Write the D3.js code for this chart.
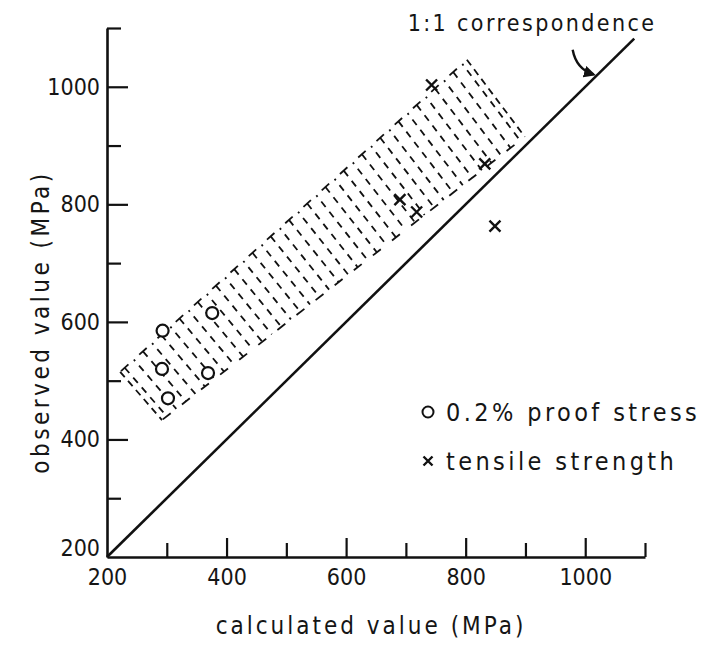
<!DOCTYPE html>
<html lang="en">
<head>
<meta charset="UTF-8">
<title>observed vs calculated</title>
<script src="https://cdn.jsdelivr.net/npm/d3@7"></script>
<style>
  body { margin: 0; background: #fff; }
  text { font-family: "DejaVu Sans Condensed", "DejaVu Sans", sans-serif; fill: #151515; }
</style>
</head>
<body>
<svg id="chart" width="708" height="647"></svg>
<script>
// 0.2% proof stress (circles)
const proofCalc = [293, 292, 302, 376, 369]
const proofObs  = [585, 520, 470, 615, 513]
// tensile strength (crosses)
const tensCalc = [743, 690, 718, 832, 849]
const tensObs  = [1003, 808, 787, 869, 763]
// scatter band corners: top-left, top-right, bottom-right, bottom-left
const bandCalc = [222, 802, 899, 292]
const bandObs  = [515, 1046, 915, 433]
const majorTicks = [200, 400, 600, 800, 1000]
const minorTicks = [300, 500, 700, 900, 1100]
const lineEnd = 1082

let svg = d3.select("#chart")
let x = d3.scaleLinear().domain([200, 1100]).range([107, 645])
let y = d3.scaleLinear().domain([200, 1100]).range([557, 28])

// hatched band
let c = bandCalc.map((v, i) => [x(v), y(bandObs[i])])
let lerp = (a, b, t) => [a[0] + (b[0] - a[0]) * t, a[1] + (b[1] - a[1]) * t]
let band = svg.append("g")
let n = 38
for (let i = 0; i < n; i++) {
  let t = (i + 0.5) / n
  let p = lerp(c[0], c[1], t), q = lerp(c[3], c[2], t)
  band.append("line")
    .attr("x1", p[0]).attr("y1", p[1]).attr("x2", q[0]).attr("y2", q[1])
    .attr("stroke", "#111").attr("stroke-width", 1.8)
    .attr("stroke-dasharray", "7,6")
    .attr("stroke-dashoffset", (i % 2) * 5)
  if (i % 2 == 0) {
    // little bars on the top and bottom edges
    ;[[p, c[0], c[1]], [q, c[3], c[2]]].forEach(([m, a, b]) => {
      let dx = b[0] - a[0], dy = b[1] - a[1], L = Math.hypot(dx, dy)
      let ux = dx / L * 5, uy = dy / L * 5
      band.append("line")
        .attr("x1", m[0] - ux).attr("y1", m[1] - uy)
        .attr("x2", m[0] + ux).attr("y2", m[1] + uy)
        .attr("stroke", "#111").attr("stroke-width", 1.8)
    })
  }
}
;[[c[0], c[3]], [c[1], c[2]]].forEach(([a, b]) => {
  band.append("line")
    .attr("x1", a[0]).attr("y1", a[1]).attr("x2", b[0]).attr("y2", b[1])
    .attr("stroke", "#111").attr("stroke-width", 1.8)
    .attr("stroke-dasharray", "7,5")
})

// 1:1 line
svg.append("line")
  .attr("x1", x(200)).attr("y1", y(200))
  .attr("x2", x(lineEnd)).attr("y2", y(lineEnd))
  .attr("stroke", "#111").attr("stroke-width", 2.6)

// axes
let isMajor = d => majorTicks.includes(d)
let xAxis = d3.axisBottom(x)
  .tickValues(majorTicks.concat(minorTicks))
  .tickFormat(d => isMajor(d) ? d : "")
  .tickSizeInner(-18).tickSizeOuter(0).tickPadding(12)
let gx = svg.append("g").attr("transform", "translate(0," + y(200) + ")").call(xAxis)
gx.selectAll(".tick line").attr("y2", d => d == 200 ? 0 : (isMajor(d) ? -19 : -14))

let yAxis = d3.axisLeft(y)
  .tickValues(majorTicks.concat(minorTicks))
  .tickFormat(d => isMajor(d) ? d : "")
  .tickSizeInner(-20).tickSizeOuter(0).tickPadding(7)
let gy = svg.append("g").attr("transform", "translate(" + x(200) + ",0)").call(yAxis)
gy.selectAll(".tick line").attr("x2", d => d == 200 ? 0 : (isMajor(d) ? 21 : 14))
gy.selectAll(".tick text").filter(d => d == 200).attr("dy", "-0.05em")

svg.selectAll(".domain").attr("stroke", "#111").attr("stroke-width", 2.6)
svg.selectAll(".tick line").attr("stroke", "#111").attr("stroke-width", 2.2)
svg.selectAll(".tick text").attr("font-size", 23).attr("font-family", null).attr("fill", "#151515")

// proof stress points
svg.append("g").selectAll("circle")
  .data(proofCalc.map((v, i) => [v, proofObs[i]]))
  .enter().append("circle")
  .attr("cx", d => x(d[0])).attr("cy", d => y(d[1])).attr("r", 6)
  .attr("fill", "#fff").attr("stroke", "#111").attr("stroke-width", 2.2)

// tensile strength points
let cross = (g, cx, cy, s) => {
  g.append("path")
    .attr("d", `M${cx - s},${cy - s}L${cx + s},${cy + s}M${cx - s},${cy + s}L${cx + s},${cy - s}`)
    .attr("stroke", "#111").attr("stroke-width", 2.4).attr("fill", "none")
}
let tg = svg.append("g")
tensCalc.forEach((v, i) => cross(tg, x(v), y(tensObs[i]), 5.5))

// pointer to the 1:1 line
svg.append("defs").append("marker")
  .attr("id", "head").attr("viewBox", "0 0 10 10").attr("refX", 8).attr("refY", 5)
  .attr("markerWidth", 5).attr("markerHeight", 5).attr("orient", "auto")
  .append("path").attr("d", "M0,0L10,5L0,10z").attr("fill", "#111")
svg.append("path")
  .attr("d", `M${x(979)},${y(1063)}Q${x(985)},${y(1030)} ${x(1014)},${y(1021)}`)
  .attr("stroke", "#111").attr("stroke-width", 2.4).attr("fill", "none")
  .attr("marker-end", "url(#head)")

svg.append("text").attr("x", 532).attr("y", 31).attr("text-anchor", "middle")
  .attr("font-size", 23).attr("letter-spacing", 2.4).text("1:1 correspondence")

// legend
svg.append("circle").attr("cx", 428).attr("cy", 412).attr("r", 5.5)
  .attr("fill", "none").attr("stroke", "#111").attr("stroke-width", 2)
svg.append("text").attr("x", 446).attr("y", 421).attr("font-size", 25)
  .attr("letter-spacing", 3.4).text("0.2% proof stress")
cross(svg, 428, 461, 4.5)
svg.append("text").attr("x", 446).attr("y", 470).attr("font-size", 25)
  .attr("letter-spacing", 3.4).text("tensile strength")

// axis titles
svg.append("text").attr("x", 371).attr("y", 634).attr("text-anchor", "middle")
  .attr("font-size", 24).attr("letter-spacing", 3).text("calculated value (MPa)")
svg.append("text").attr("transform", "translate(49,322) rotate(-90)")
  .attr("text-anchor", "middle").attr("font-size", 24).attr("letter-spacing", 3.5)
  .text("observed value (MPa)")
</script>
</body>
</html>
